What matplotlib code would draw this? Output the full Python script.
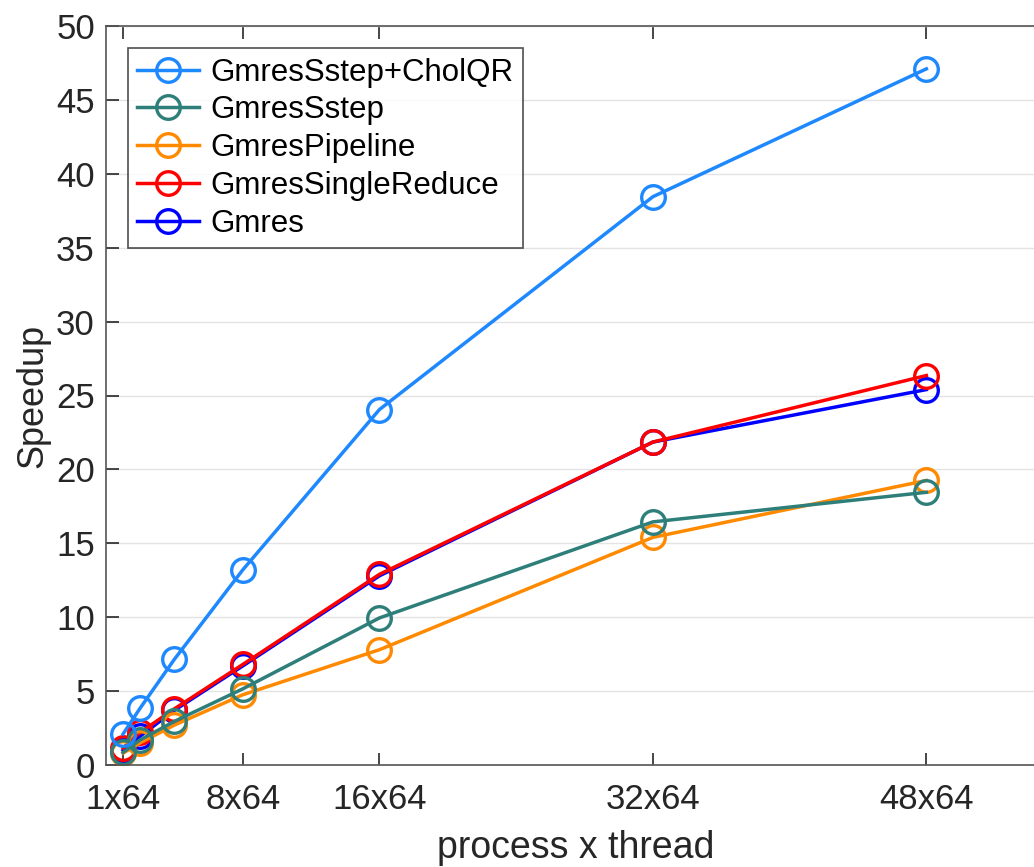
import numpy as np
import matplotlib
matplotlib.use('Agg')
import matplotlib.pyplot as plt

plt.rcParams['font.family'] = ['Liberation Sans', 'DejaVu Sans']

# processes (each with 64 threads)
procs = [1, 2, 4, 8, 16, 32, 48]
tick_procs = [1, 8, 16, 32, 48]
tick_labels = ['1x64', '8x64', '16x64', '32x64', '48x64']

# speedup
cholqr = [2.1, 3.85, 7.15, 13.2, 24.05, 38.45, 47.1]
sstep = [0.85, 1.7, 2.95, 5.15, 9.95, 16.45, 18.45]
pipeline = [0.8, 1.5, 2.7, 4.75, 7.8, 15.4, 19.25]
single_reduce = [1.15, 2.2, 3.8, 6.8, 12.9, 21.85, 26.35]
gmres = [1.0, 1.95, 3.7, 6.7, 12.8, 21.85, 25.4]

names = ['GmresSstep+CholQR', 'GmresSstep', 'GmresPipeline', 'GmresSingleReduce', 'Gmres']
series = [cholqr, sstep, pipeline, single_reduce, gmres]
colors = ['#1E88FF', '#2E7F7A', '#FF8A00', '#FF0000', '#0000FF']

fig = plt.figure(figsize=(10.34, 8.67), dpi=100)
ax = fig.add_axes([106/1034, 1 - 765/867, 940/1034, (765 - 26)/867])

handles = [None]*5
# draw from the last legend entry to the first so the order of overlap matches
for i in reversed(range(5)):
    h, = ax.plot(procs, series[i], '-o', color=colors[i], lw=2.5,
                 markersize=17, markeredgewidth=2.4, markerfacecolor='none')
    handles[i] = h

ax.set_xlim(0, 55)
ax.set_ylim(0, 50)
ax.set_xticks(tick_procs)
ax.set_xticklabels(tick_labels)
ax.set_yticks(np.arange(0, 51, 5))
ax.grid(axis='y', color='#e3e3e3', lw=1)
ax.set_axisbelow(True)

axc = '#262626'
for s in ax.spines.values():
    s.set_color('#555555')
    s.set_linewidth(1.2)
ax.tick_params(direction='in', top=True, right=False, length=9, width=1.2,
               colors=axc, labelsize=25, pad=13)
ax.tick_params(axis='y', pad=8)
ax.set_xlabel('process x thread', fontsize=27, color=axc, labelpad=10)
ax.set_ylabel('Speedup', fontsize=26, color=axc, labelpad=4)

leg = ax.legend(handles, names, loc='upper left', bbox_to_anchor=(0.023, 0.97),
                fontsize=22.5, frameon=True, fancybox=False, handlelength=2.0,
                handletextpad=0.35, borderpad=0.3, labelspacing=0.25,
                borderaxespad=0)
leg.get_frame().set_edgecolor('#222222')
leg.get_frame().set_linewidth(1.2)

fig.savefig('out.png', dpi=100)
